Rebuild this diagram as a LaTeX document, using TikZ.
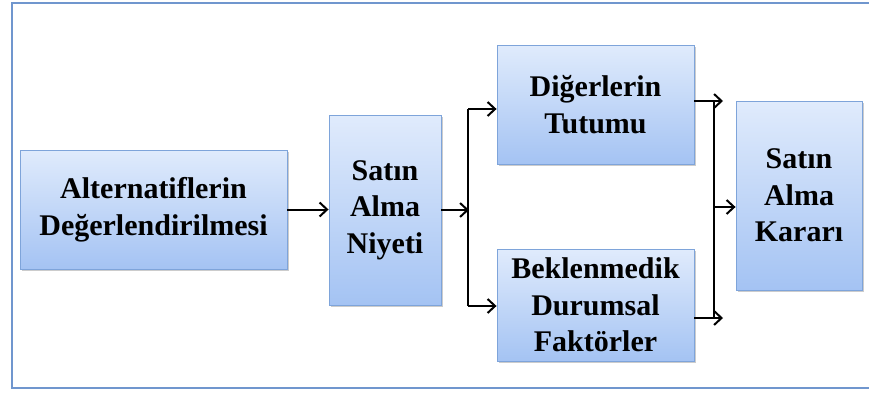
\documentclass[tikz,border=0pt]{standalone}
\usepackage{fontspec}
\setmainfont{Liberation Serif}
\usepackage{tikz}
\usetikzlibrary{arrows.meta}
\usetikzlibrary{shadows}
\usepackage{xcolor}
\definecolor{frameblue}{RGB}{112,150,206}
\definecolor{boxedge}{RGB}{126,164,218}
\definecolor{boxtop}{RGB}{224,235,252}
\definecolor{boxbottom}{RGB}{164,195,243}
\tikzset{
    stage/.style={draw=boxedge, line width=0.9pt, top color=boxtop, bottom color=boxbottom,
        inner sep=0pt, align=center, font=\fontsize{30}{36.5}\selectfont\bfseries,
        drop shadow={shadow xshift=2pt, shadow yshift=-2pt, opacity=0.4}},
    flow/.style={line width=2pt, -{Straight Barb[length=7.5pt, width=14pt, line width=2pt]}}
}

\begin{document}
\begin{tikzpicture}[x=1pt, y=-1pt]
	\useasboundingbox (0,0) rectangle (869,394);
	% outer frame
	\draw [frameblue, line width=2pt] (880,3) -- (12,3) -- (12,388) -- (880,388);

	% stages
	\node[stage, minimum width=267pt, minimum height=119pt] (alt) at (153.5,209.5) {Alternatiflerin\\Değerlendirilmesi};
	\node[stage, minimum width=112pt, minimum height=190pt] (niyet) at (385,210) {Satın\\Alma\\Niyeti};
	\node[stage, minimum width=197pt, minimum height=119pt] (tutum) at (595.5,104.5) {Diğerlerin\\Tutumu};
	\node[stage, minimum width=197pt, minimum height=112pt] (faktor) at (595.5,305) {Beklenmedik\\Durumsal\\Faktörler};
	\node[stage, minimum width=126pt, minimum height=189pt] (karar) at (799,195.5) {Satın\\Alma\\Kararı};

	% split after the intention
	\coordinate (split) at (469,210);
	\coordinate (splitTop) at (468,109);
	\coordinate (splitBot) at (468,306);
	\draw [flow] (alt.east) -- (alt.east -| niyet.west);
	\draw [flow] (niyet.east |- split) -- (split);
	\draw [line width=2pt] (splitTop) -- (splitBot);
	\draw [flow] (splitTop) -- (splitTop -| tutum.west);
	\draw [flow] (splitBot) -- (splitBot -| faktor.west);

	% join before the decision
	\coordinate (joinTop) at (714,101);
	\coordinate (joinBot) at (714,318);
	\coordinate (joinMid) at (714,207);
	\coordinate (tipTop) at (723,101);
	\coordinate (tipBot) at (723,318);
	\draw [line width=2pt] (joinTop) -- (joinBot);
	\draw [flow] (tutum.east |- tipTop) -- (tipTop);
	\draw [flow] (faktor.east |- tipBot) -- (tipBot);
	\draw [flow] (joinMid) -- (joinMid -| karar.west);
\end{tikzpicture}
\end{document}
